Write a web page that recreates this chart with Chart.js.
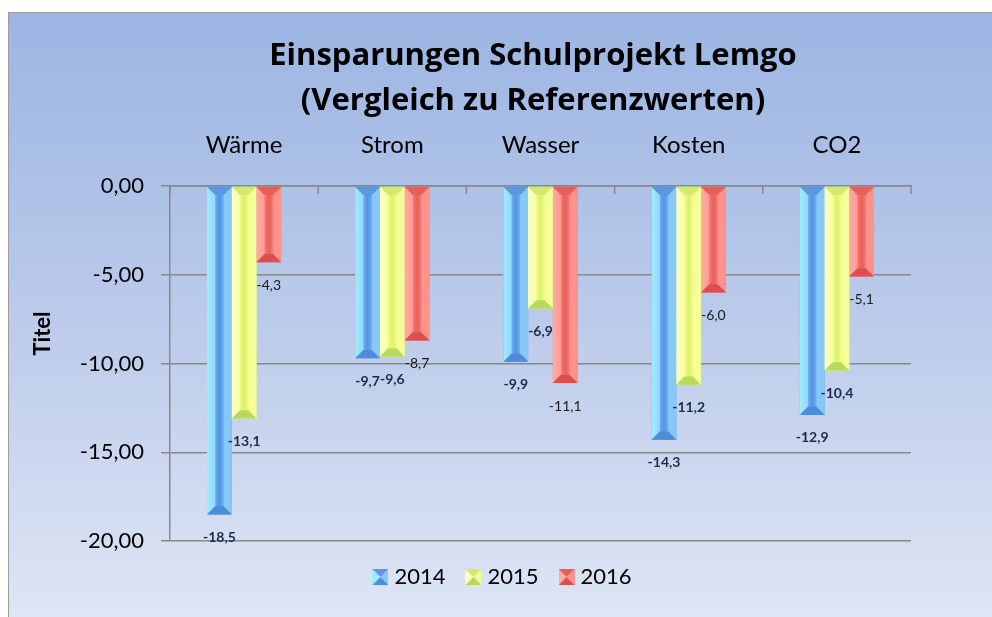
<!DOCTYPE html>
<html><head><meta charset="utf-8">
<script src="https://cdn.jsdelivr.net/npm/chart.js@4.4.1/dist/chart.umd.min.js"></script>
<style>
html,body{margin:0;padding:0;background:#fff;width:992px;height:617px;overflow:hidden;}
#frame{position:absolute;left:8px;top:12px;width:1060px;height:620px;border-left:1px solid #9d9d9d;border-top:1px solid #9d9d9d;background:linear-gradient(to bottom,#9bb5e3 0%,#bccbea 50%,#e0e7f5 100%);}
#c{position:absolute;left:0;top:0;}
</style></head><body>
<div id="frame"><canvas id="c" width="1048" height="604" style="width:1048px;height:604px"></canvas></div>
<script>
const categories = ['Wärme', 'Strom', 'Wasser', 'Kosten', 'CO2'];
const seriesNames = ['2014', '2015', '2016'];
const values2014 = [-18.5, -9.7, -9.9, -14.3, -12.9];
const values2015 = [-13.1, -9.6, -6.9, -11.2, -10.4];
const values2016 = [-4.3, -8.7, -11.1, -6.0, -5.1];
const yTicks = [0, -5, -10, -15, -20];
const titleLines = ['Einsparungen Schulprojekt Lemgo', '(Vergleich zu Referenzwerten)'];
const yAxisTitle = 'Titel';

const FONT = 'Lato, "Open Sans", sans-serif';
const TITLE_FONT = '"Open Sans", Lato, sans-serif';
const palettes = [
  {left:'#a2ecff', leftIn:'#8fd8fb', faceA:'#6aaef0', faceB:'#5592e0', right:'#86c8f7', top:'#5a98e4', bottom:'#4d8cdc', face:'#5c9de8'},
  {left:'#fdffc2', leftIn:'#f8ffa6', faceA:'#eefc88', faceB:'#dcf06a', right:'#f4ff98', top:'#d2ea6c', bottom:'#b9d95c', face:'#e6f87a'},
  {left:'#ffaba3', leftIn:'#ff9b93', faceA:'#f47872', faceB:'#e85f5b', right:'#ff928b', top:'#ea5e5a', bottom:'#dc4f4c', face:'#f06a64'}
];

function fmt(v, d) { return v.toFixed(d).replace('.', ','); }

function makeMarker(p) {
  const c = document.createElement('canvas');
  c.width = 16; c.height = 16;
  const g = c.getContext('2d');
  const tri = (pts, col) => { g.beginPath(); g.moveTo(pts[0][0], pts[0][1]); for (let k = 1; k < pts.length; k++) g.lineTo(pts[k][0], pts[k][1]); g.closePath(); g.fillStyle = col; g.fill(); };
  tri([[0,0],[8,8],[0,16]], p.left);
  tri([[16,0],[8,8],[16,16]], p.right);
  tri([[0,0],[16,0],[8,8]], p.top);
  tri([[0,16],[16,16],[8,8]], p.bottom);
  return c;
}

function poly(ctx, pts, fill) {
  ctx.beginPath();
  ctx.moveTo(pts[0][0], pts[0][1]);
  for (let k = 1; k < pts.length; k++) ctx.lineTo(pts[k][0], pts[k][1]);
  ctx.closePath();
  ctx.fillStyle = fill;
  ctx.fill();
}

const bevelPlugin = {
  id: 'bevel',
  afterDatasetsDraw(chart) {
    const ctx = chart.ctx;
    chart.data.datasets.forEach((ds, i) => {
      const meta = chart.getDatasetMeta(i);
      if (meta.hidden) return;
      const p = palettes[i];
      meta.data.forEach(el => {
        const {x, y, base, width} = el.getProps(['x', 'y', 'base', 'width'], true);
        const L = x - width / 2, R = x + width / 2;
        const T = Math.min(y, base), B = Math.max(y, base);
        const b = Math.min(width / 3, (B - T) / 2);
        ctx.save();
        const g = ctx.createLinearGradient(L + b, 0, R - b, 0);
        g.addColorStop(0, p.faceA); g.addColorStop(0.5, p.faceB); g.addColorStop(1, p.faceA);
        ctx.fillStyle = g;
        ctx.fillRect(L + b, T + b, R - L - 2 * b, B - T - 2 * b);
        const gl = ctx.createLinearGradient(L, 0, L + b, 0);
        gl.addColorStop(0, p.left); gl.addColorStop(1, p.leftIn);
        poly(ctx, [[L, T], [L + b, T + b], [L + b, B - b], [L, B]], gl);
        poly(ctx, [[R, T], [R - b, T + b], [R - b, B - b], [R, B]], p.right);
        poly(ctx, [[L, T], [R, T], [R - b, T + b], [L + b, T + b]], p.top);
        poly(ctx, [[L, B], [R, B], [R - b, B - b], [L + b, B - b]], p.bottom);
        ctx.restore();
      });
    });
    // value labels
    chart.data.datasets.forEach((ds, i) => {
      const meta = chart.getDatasetMeta(i);
      if (meta.hidden) return;
      ctx.save();
      ctx.font = (i < 2 ? 'bold ' : '') + '14px ' + FONT;
      ctx.fillStyle = i < 2 ? '#1c2b4a' : '#1a1a1a';
      ctx.textAlign = 'center';
      ctx.textBaseline = 'middle';
      meta.data.forEach((el, j) => {
        const {x, y} = el.getProps(['x', 'y'], true);
        ctx.fillText(fmt(ds.data[j], 1), x, y + 23);
      });
      ctx.restore();
    });
  }
};

const axisExtrasPlugin = {
  id: 'axisExtras',
  afterLayout(chart) {
    const lg = chart.legend;
    if (lg) { lg.left -= 28.5; lg.right -= 28.5; }
  },
  afterDraw(chart) {
    const ctx = chart.ctx;
    const xs = chart.scales.x;
    const top = chart.chartArea.top;
    ctx.save();
    ctx.strokeStyle = '#888888';
    ctx.lineWidth = 1.5;
    for (let i = 0; i <= categories.length; i++) {
      const px = xs.getPixelForValue(i - 0.5);
      ctx.beginPath();
      ctx.moveTo(px, top);
      ctx.lineTo(px, top + 8);
      ctx.stroke();
    }
    // y axis title
    ctx.translate(34, 320.5);
    ctx.rotate(-Math.PI / 2);
    ctx.font = 'bold 22px ' + FONT;
    ctx.fillStyle = '#000';
    ctx.textAlign = 'center';
    ctx.textBaseline = 'middle';
    ctx.fillText(yAxisTitle, 0, 0);
    ctx.restore();
  }
};

const seriesValues = [values2014, values2015, values2016];
const datasets = seriesNames.map((name, i) => ({
  label: name,
  data: seriesValues[i],
  backgroundColor: palettes[i].face,
  borderWidth: 0,
  categoryPercentage: 0.5,
  barPercentage: 1.0,
  pointStyle: makeMarker(palettes[i])
}));

new Chart(document.getElementById('c'), {
  type: 'bar',
  data: { labels: categories, datasets },
  options: {
    responsive: false,
    devicePixelRatio: 1,
    animation: false,
    layout: { padding: { left: 0, right: 0, top: 0, bottom: 19 } },
    plugins: {
      tooltip: { enabled: false },
      title: {
        display: true,
        text: titleLines,
        color: '#000',
        font: { family: TITLE_FONT, size: 31, weight: 'bold', lineHeight: '45px' },
        padding: { top: 20.5, bottom: 0 }
      },
      legend: {
        position: 'bottom',
        labels: {
          usePointStyle: true,
          boxWidth: 6,
          boxHeight: 16,
          padding: 25,
          color: '#000',
          font: { family: FONT, size: 22 }
        }
      }
    },
    scales: {
      x: {
        position: 'top',
        offset: true,
        grid: { display: false },
        border: { display: true, color: '#888888', width: 1.5 },
        ticks: { color: '#000', padding: 18.6, font: { family: FONT, size: 24 } },
        afterFit(s) { s.height = 62.5; }
      },
      y: {
        position: 'left',
        min: -20,
        max: 0,
        afterBuildTicks(s) { s.ticks = yTicks.map(v => ({ value: v })); },
        ticks: { color: '#000', padding: 17, font: { family: FONT, size: 22 }, callback: v => fmt(v, 2) },
        grid: { color: '#888888', lineWidth: 1.5, tickLength: 9, drawTicks: true },
        border: { display: true, color: '#888888', width: 1.5 },
        afterFit(s) { s.width = 161; }
      },
      y2: {
        position: 'right',
        display: true,
        min: -20,
        max: 0,
        grid: { display: false },
        border: { display: false },
        ticks: { display: false },
        afterFit(s) { s.width = 146; }
      }
    }
  },
  plugins: [bevelPlugin, axisExtrasPlugin]
});
</script>
</body></html>
